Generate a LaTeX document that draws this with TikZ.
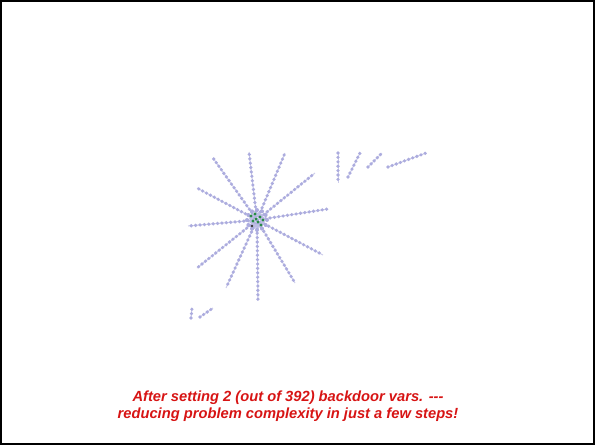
\documentclass[tikz,border=0pt]{standalone}
\usepackage{fontspec}
\setmainfont{Liberation Sans}
\usetikzlibrary{positioning}
\definecolor{beadblue}{RGB}{172,172,222}
\definecolor{capred}{RGB}{215,20,20}
\definecolor{hubgreen}{RGB}{40,140,70}

\begin{document}
\begin{tikzpicture}[x=1pt, y=-1pt,
    bead/.style={beadblue, line width=3.6pt, line cap=round, dash pattern=on 0pt off 4.4pt},
    thread/.style={beadblue!60, line width=1pt}]
  \useasboundingbox (0,0) rectangle (595,445);
  \draw[line width=1.6pt] (0.8,0.8) rectangle (594.2,444.2);
  % star around the hub
  \coordinate (hub) at (257,220);
  \foreach \x/\y [count=\i] in {188/226, 197/188, 213/158, 249/152, 285/153, 315/173,
      328/209, 323/255, 295/283, 258/300, 226/288, 197/268}{
    \coordinate (tip\i) at (\x,\y);
    \draw[thread] (hub) -- (tip\i);
    \draw[bead] (hub) -- (tip\i);
  }
  % loose pieces
  \foreach \ax/\ay/\bx/\by [count=\j] in {338/153/338/183, 348/177/360/153, 368/167/382/153,
      388/167/426/153, 191/318/192/308, 200/317/213/308}{
    \coordinate (ra\j) at (\ax,\ay);
    \coordinate (rb\j) at (\bx,\by);
    \draw[thread] (ra\j) -- (rb\j);
    \draw[bead] (ra\j) -- (rb\j);
  }
  % hub cluster
  \foreach \a in {0,30,...,330}{
    \fill[beadblue] ([shift={(\a:10)}]hub) circle (2pt);
    \fill[beadblue!80] ([shift={(\a+15:6)}]hub) circle (2pt);
  }
  \foreach \dx/\dy in {-6/-4, -2/-6, 3/-3, 6/0, -4/1, 1/2, 4/5, -1/-1}{
    \fill[hubgreen] ([shift={(\dx,\dy)}]hub) circle (1.6pt);
  }
  \fill[black!80] ([shift={(-5,6)}]hub) circle (1.4pt);
  \node[capred, font=\fontsize{14.7}{17.5}\selectfont\bfseries\itshape, align=center]
    (caption) at (288,406) {After setting 2 (out of 392) backdoor vars. {-}{-}{-}\\
    reducing problem complexity in just a few steps!};
\end{tikzpicture}
\end{document}
